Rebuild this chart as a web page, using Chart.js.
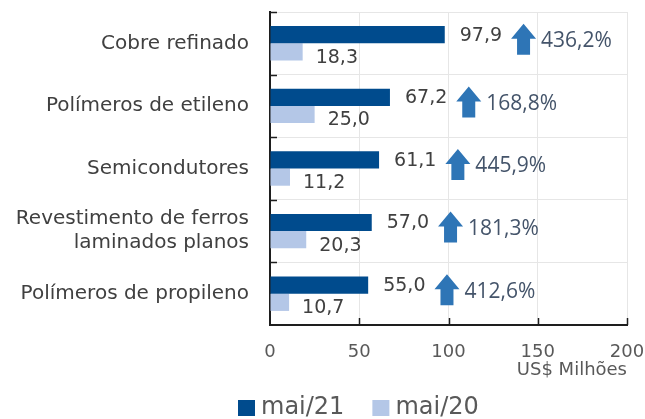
<!DOCTYPE html>
<html lang="pt">
<head>
<meta charset="utf-8">
<title>Exportações mai/21 x mai/20</title>
<script src="https://cdn.jsdelivr.net/npm/chart.js@4.4.1/dist/chart.umd.min.js"></script>
<style>
    html, body { margin: 0; padding: 0; background: #fff; }
    .chart-box { width: 645px; height: 419px; position: relative; }
</style>
</head>
<body>
<div class="chart-box"><canvas id="exportChart"></canvas></div>
<script>
// --- DATA ---
const categories = [
    'Cobre refinado',
    'Polímeros de etileno',
    'Semicondutores',
    ['Revestimento de ferros', 'laminados planos'],
    'Polímeros de propileno'
];
const seriesLabels = ['mai/21', 'mai/20'];
const valuesMai21 = [97.9, 67.2, 61.1, 57.0, 55.0];
const valuesMai20 = [18.3, 25.0, 11.2, 20.3, 10.7];
const growthPct = [436.2, 168.8, 445.9, 181.3, 412.6];
const xTicks = [0, 50, 100, 150, 200];

document.addEventListener('DOMContentLoaded', () => {

    const DARK = '#004b8d';
    const LIGHT = '#b4c7e7';
    const ARROW = '#2e75b6';
    const AXIS = '#1e1e1e';
    const TEXT = '#404040';
    const BASE_FONT = '"DejaVu Sans", sans-serif';

    const fmt = v => v.toFixed(1).replace('.', ',');

    // --- LABELS, ARROWS, INNER TICKS, LEGEND ---
    const decorations = {
        id: 'decorations',
        afterDatasetsDraw(chart) {
            const { ctx, scales: { x, y } } = chart;
            const darkBars = chart.getDatasetMeta(0).data;
            const lightBars = chart.getDatasetMeta(1).data;

            ctx.save();
            ctx.textBaseline = 'middle';
            ctx.textAlign = 'left';

            // value labels
            ctx.font = '19px ' + BASE_FONT;
            ctx.fillStyle = TEXT;
            const darkEnds = [];
            darkBars.forEach((bar, i) => {
                const txt = fmt(valuesMai21[i]);
                const lx = bar.x + 15;
                ctx.fillText(txt, lx, bar.y + 1);
                darkEnds.push(lx + ctx.measureText(txt).width);
            });
            lightBars.forEach((bar, i) => {
                ctx.fillText(fmt(valuesMai20[i]), bar.x + 13, bar.y + 6);
            });

            // growth arrows + percentages
            const aw = 25, ah = 31, headH = 15, shaft = 13;
            darkEnds.forEach((endX, i) => {
                const cy = y.getPixelForValue(i) - 4;
                const x0 = endX + 9;
                const top = cy - ah / 2;
                ctx.beginPath();
                ctx.moveTo(x0 + aw / 2, top);
                ctx.lineTo(x0 + aw, top + headH);
                ctx.lineTo(x0 + aw / 2 + shaft / 2, top + headH);
                ctx.lineTo(x0 + aw / 2 + shaft / 2, top + ah);
                ctx.lineTo(x0 + aw / 2 - shaft / 2, top + ah);
                ctx.lineTo(x0 + aw / 2 - shaft / 2, top + headH);
                ctx.lineTo(x0, top + headH);
                ctx.closePath();
                ctx.fillStyle = ARROW;
                ctx.fill();

                ctx.font = '21px "Open Sans", sans-serif';
                ctx.fillStyle = '#44546a';
                ctx.fillText(fmt(growthPct[i]) + '%', x0 + aw + 5, cy + 2);
            });

            // tick marks drawn inside the plot
            ctx.strokeStyle = AXIS;
            ctx.lineWidth = 1.5;
            const band = (y.bottom - y.top) / categories.length;
            for (let i = 0; i < categories.length; i++) {
                const ty = Math.round(y.top + i * band) + 0.5;
                ctx.beginPath();
                ctx.moveTo(x.left, ty);
                ctx.lineTo(x.left + 7, ty);
                ctx.stroke();
            }
            xTicks.slice(1).forEach(v => {
                const tx = Math.round(x.getPixelForValue(v)) + 0.5;
                ctx.beginPath();
                ctx.moveTo(tx, y.bottom);
                ctx.lineTo(tx, y.bottom - 7);
                ctx.stroke();
            });
            ctx.restore();
        },
        afterDraw(chart) {
            const { ctx } = chart;
            ctx.save();
            ctx.font = '24px ' + BASE_FONT;
            ctx.textBaseline = 'middle';
            ctx.textAlign = 'left';
            let lx = 238;
            const ly = 408;
            chart.data.datasets.forEach(ds => {
                ctx.fillStyle = ds.backgroundColor;
                ctx.fillRect(lx, ly - 8, 17, 16);
                ctx.fillStyle = '#595959';
                ctx.fillText(ds.label, lx + 23, ly);
                lx += 23 + ctx.measureText(ds.label).width + 28;
            });
            ctx.restore();
        }
    };

    // --- CHART ---
    const ctx = document.getElementById('exportChart').getContext('2d');
    new Chart(ctx, {
        type: 'bar',
        data: {
            labels: categories,
            datasets: [
                { label: seriesLabels[0], data: valuesMai21, backgroundColor: DARK },
                { label: seriesLabels[1], data: valuesMai20, backgroundColor: LIGHT }
            ]
        },
        options: {
            indexAxis: 'y',
            responsive: true,
            maintainAspectRatio: false,
            animation: false,
            categoryPercentage: 0.55,
            barPercentage: 1.0,
            layout: { padding: { top: 12, right: 18, left: 0, bottom: 36 } },
            plugins: {
                legend: { display: false },
                tooltip: { enabled: false }
            },
            scales: {
                x: {
                    min: 0,
                    max: 200,
                    afterBuildTicks: scale => { scale.ticks = xTicks.map(v => ({ value: v })); },
                    afterFit: scale => {
                        scale.height = 58;
                        scale.paddingLeft = 0;
                        scale.paddingRight = 0;
                    },
                    grid: { color: '#e6e6e6', drawTicks: false },
                    border: { color: AXIS, width: 2 },
                    ticks: {
                        padding: 17,
                        color: '#595959',
                        font: { family: BASE_FONT, size: 18 }
                    },
                    title: {
                        display: true,
                        text: 'US$ Milhões',
                        align: 'end',
                        color: '#595959',
                        font: { family: BASE_FONT, size: 18 },
                        padding: { top: 0, bottom: 2 }
                    }
                },
                y: {
                    afterFit: scale => {
                        scale.width = 270;
                        scale.paddingTop = 0;
                        scale.paddingBottom = 0;
                    },
                    grid: { color: '#e6e6e6', drawTicks: false },
                    border: { color: AXIS, width: 2 },
                    ticks: {
                        padding: 21,
                        color: TEXT,
                        font: { family: BASE_FONT, size: 20 }
                    }
                }
            }
        },
        plugins: [decorations]
    });
});
</script>
</body>
</html>
